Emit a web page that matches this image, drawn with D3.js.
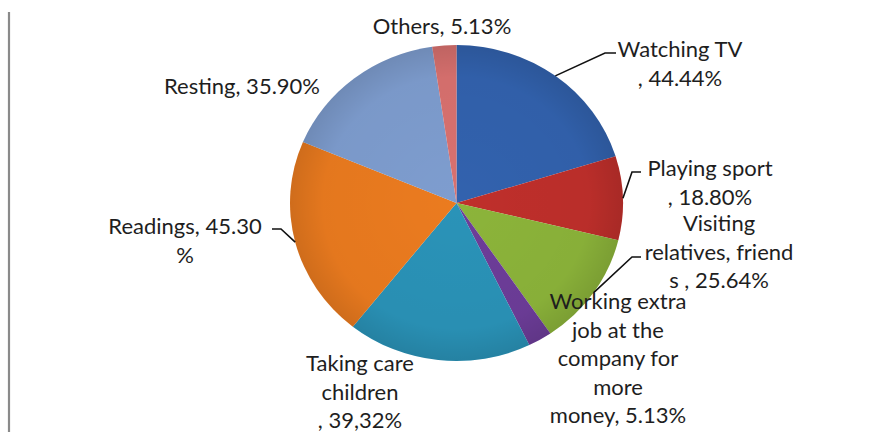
<!DOCTYPE html>
<html>
<head>
<meta charset="utf-8">
<script src="https://cdn.jsdelivr.net/npm/d3@7"></script>
<style>
  html, body { margin: 0; padding: 0; background: #ffffff; }
  svg { display: block; }
  text { font-family: Lato, "Open Sans", sans-serif; fill: #1e1e1e; }
</style>
</head>
<body>
<svg id="chart" width="889" height="432"></svg>
<script>
// Leisure activities (multiple answers, % of respondents)
const categories = [
  "Watching TV", "Playing sport", "Visiting relatives, friends",
  "Working extra job at the company for more money",
  "Taking care children", "Readings", "Resting", "Others"
];
const values = [44.44, 18.80, 25.64, 5.13, 39.32, 45.30, 35.90, 5.13];
const colors = ["#3262ae", "#bf2f2b", "#8cb43a", "#6d3d99", "#2a93b8", "#eb7b1f", "#7e9dcf", "#d9716f"];

// Label text as it wraps in the chart
const labelLines = [
  ["Watching TV", ", 44.44%"],
  ["Playing sport", ", 18.80%"],
  ["Visiting", "relatives, friend", "s , 25.64%"],
  ["Working extra", "job at the", "company for", "more", "money, 5.13%"],
  ["Taking care", "children", ", 39,32%"],
  ["Readings, 45.30", "%"],
  ["Resting, 35.90%"],
  ["Others, 5.13%"]
];

// Label placement: centre x, first line y, leader elbow/end (null = no leader)
const labelLayout = [
  { x: 680, y: 48,  elbow: [605, 53], end: [616, 53] },
  { x: 710, y: 167, elbow: [632, 172], end: [641, 172] },
  { x: 719, y: 222, elbow: [632, 257], end: [641, 257] },
  { x: 618, y: 300, elbow: null },
  { x: 360, y: 362, elbow: null },
  { x: 185, y: 225, elbow: [281, 229], end: [272, 229] },
  { x: 242, y: 85,  elbow: null },
  { x: 442, y: 25,  elbow: null }
];

const svg = d3.select("#chart");

// left frame rule
svg.append("line")
  .attr("x1", 9).attr("x2", 9).attr("y1", 12).attr("y2", 432)
  .attr("stroke", "#8a8a8a").attr("stroke-width", 2.2);

const cx = 456.5, cy = 203, ry = 158, rx = 166.5;
const sx = rx / ry;

const pie = d3.pie().sort(null).value(d => d)(values);
const arc = d3.arc().innerRadius(0).outerRadius(ry);

const defs = svg.append("defs");
const shade = defs.append("radialGradient")
  .attr("id", "shade").attr("gradientUnits", "userSpaceOnUse")
  .attr("cx", 0).attr("cy", 0).attr("r", ry);
shade.append("stop").attr("offset", "0%").attr("stop-color", "#000").attr("stop-opacity", 0);
shade.append("stop").attr("offset", "80%").attr("stop-color", "#000").attr("stop-opacity", 0.03);
shade.append("stop").attr("offset", "100%").attr("stop-color", "#000").attr("stop-opacity", 0.12);

const g = svg.append("g").attr("transform", `translate(${cx},${cy}) scale(${sx},1)`);

g.selectAll("path.slice")
  .data(pie)
  .join("path")
  .attr("class", "slice")
  .attr("d", arc)
  .attr("fill", (d, i) => colors[i]);

g.append("circle").attr("r", ry).attr("fill", "url(#shade)");

// leader lines start at the slice's outer edge, mid-angle
const leaders = svg.append("g")
  .attr("fill", "none").attr("stroke", "#111").attr("stroke-width", 1.6);
pie.forEach((d, i) => {
  const L = labelLayout[i];
  if (!L.elbow) return;
  const a = (d.startAngle + d.endAngle) / 2;
  const px = cx + rx * Math.sin(a);
  const py = cy - ry * Math.cos(a);
  leaders.append("polyline")
    .attr("points", [[px, py], L.elbow, L.end].map(p => p.join(",")).join(" "));
});

// labels
const lineH = 28.5;
const labels = svg.append("g").attr("font-size", 22).attr("text-anchor", "middle");
labelLines.forEach((lines, i) => {
  const L = labelLayout[i];
  const t = labels.append("text")
    .attr("x", L.x).attr("y", L.y)
    .attr("dominant-baseline", "central");
  lines.forEach((s, k) => {
    t.append("tspan").attr("x", L.x).attr("y", L.y + k * lineH).text(s);
  });
});
</script>
</body>
</html>
